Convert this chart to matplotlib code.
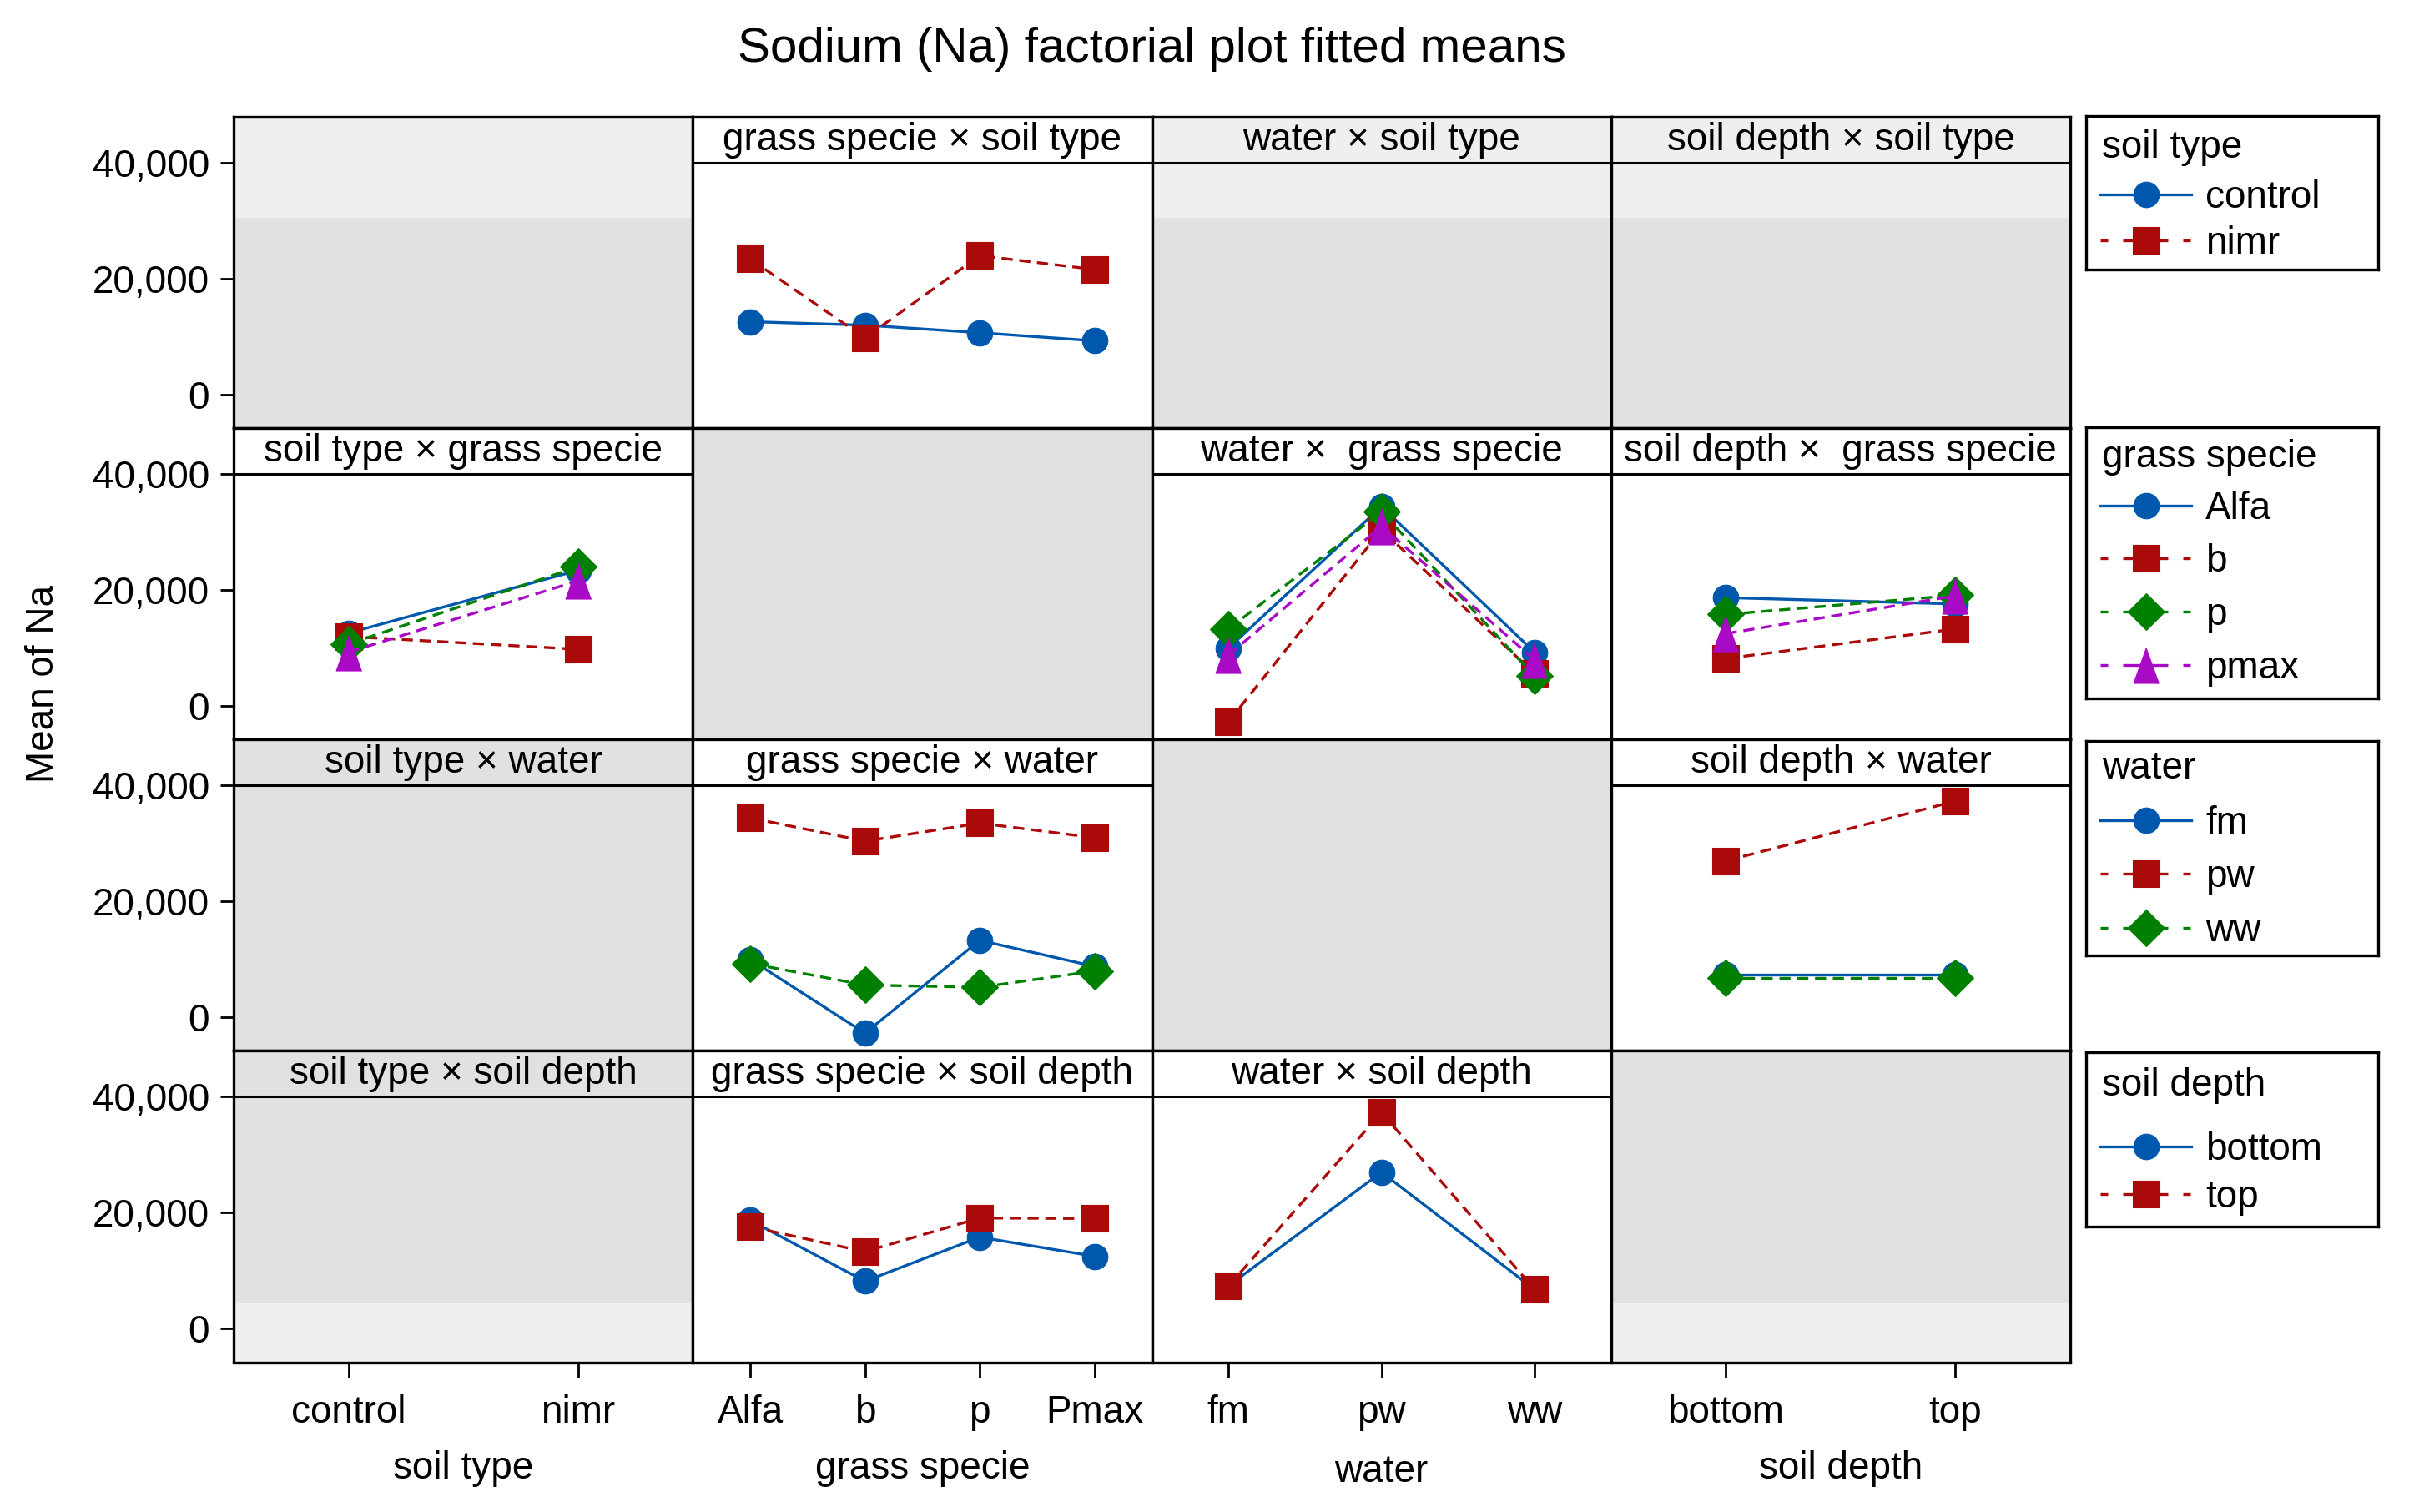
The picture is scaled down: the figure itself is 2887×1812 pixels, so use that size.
import numpy as np
import matplotlib.pyplot as plt
from matplotlib.lines import Line2D

plt.rcParams['font.family'] = ['Liberation Sans', 'DejaVu Sans']

# factor names and levels
factors = ['soil type', 'grass specie', 'water', 'soil depth']
soil_levels = ['control', 'nimr']
grass_levels = ['Alfa', 'b', 'p', 'pmax']
grass_ticks = ['Alfa', 'b', 'p', 'Pmax']
water_levels = ['fm', 'pw', 'ww']
depth_levels = ['bottom', 'top']

# fitted means of Na, rows = first factor, columns = second factor
soil_grass = [[12600, 12000, 10700, 9300],
              [23400, 9800, 24000, 21600]]
grass_water = [[10000, 34400, 9300],
               [-2700, 30400, 5600],
               [13300, 33500, 5200],
               [8800, 31000, 8000]]
grass_depth = [[18700, 17600],
               [8200, 13300],
               [15800, 19100],
               [12500, 19000]]
water_depth = [[7400, 7400],
               [27000, 37300],
               [6800, 6800]]

# strip titles, None = no strip
strip_titles = [
    [None, 'grass specie × soil type', 'water × soil type', 'soil depth × soil type'],
    ['soil type × grass specie', None, 'water ×  grass specie', 'soil depth ×  grass specie'],
    ['soil type × water', 'grass specie × water', None, 'soil depth × water'],
    ['soil type × soil depth', 'grass specie × soil depth', 'water × soil depth', None],
]

levels = [soil_levels, grass_levels, water_levels, depth_levels]
ticklabels = [soil_levels, grass_ticks, water_levels, depth_levels]

# (row, col) -> table with rows = trace levels (row factor), cols = x levels
panels = {
    (0, 1): np.array(soil_grass),
    (1, 0): np.array(soil_grass).T,
    (1, 2): np.array(grass_water),
    (1, 3): np.array(grass_depth),
    (2, 1): np.array(grass_water).T,
    (2, 3): np.array(water_depth),
    (3, 1): np.array(grass_depth).T,
    (3, 2): np.array(water_depth).T,
}

colors = ['#0058ad', '#aa0a0a', '#008000', '#a80ac6']
tri = [(0, 0.7), (-0.5, -0.7), (0.5, -0.7)]
markers = ['o', 's', 'D', tri]
msizes = [11, 11.2, 11, 15.5]
dash = (0, (4.0, 2.4))
leg_dash = (0, (2.7, 5.4, 16.2, 5.4))
lw_data = 1.2

gray = '#e1e1e1'
light = '#efefef'
fs = 16.5
ylo, yhi = -5755, 47914

W, H = 2887, 1812
fig = plt.figure(figsize=(W / 200, H / 200), dpi=200)

L, R = 280 / W, 2481 / W
T, B = 1 - 140 / H, 1 - 1632.5 / H
pw = (R - L) / 4
ph = (T - B) / 4

for r in range(4):
    for c in range(4):
        ax = fig.add_axes([L + c * pw, T - (r + 1) * ph, pw, ph])
        n = len(levels[c])
        ax.set_xlim(-0.5, n - 0.5)
        ax.set_ylim(ylo, yhi)
        for s in ax.spines.values():
            s.set_linewidth(1.2)

        if (r, c) in panels:
            ax.set_facecolor('white')
            tab = panels[(r, c)]
            for i, row in enumerate(tab):
                ax.plot(np.arange(n), row, color=colors[i], marker=markers[i],
                        ms=msizes[i], mec=colors[i], mew=0.4, lw=lw_data,
                        ls='-' if i == 0 else dash, clip_on=False)
        else:
            ax.set_facecolor(gray)
            if r == 0:
                ax.axhspan(30500, yhi, color=light, lw=0)
            if r == 3:
                ax.axhspan(ylo, 4600, color=light, lw=0)

        title = strip_titles[r][c]
        if title is not None:
            if (r, c) in panels:
                ax.axhspan(40000, yhi, color='white', lw=0, zorder=1.5)
            ax.axhline(40000, color='black', lw=1.1, zorder=3)
            ax.text(0.5, (40000 + yhi) / 2, title, transform=ax.get_yaxis_transform(),
                    ha='center', va='center', fontsize=fs, zorder=4)

        if c == 0:
            ax.set_yticks([0, 20000, 40000])
            ax.set_yticklabels(['{:,}'.format(v) for v in [0, 20000, 40000]])
            ax.tick_params(axis='y', length=5.8, width=1.0, pad=4.7, labelsize=fs)
        else:
            ax.set_yticks([])
        if r == 3:
            ax.set_xticks(np.arange(n))
            ax.set_xticklabels(ticklabels[c])
            ax.tick_params(axis='x', length=6.5, width=1.0, pad=7.5, labelsize=fs)
        else:
            ax.set_xticks([])

# x axis labels
for c, name in enumerate(factors):
    yb = 1776 if name == 'water' else 1772
    fig.text(L + (c + 0.5) * pw, 1 - yb / H, name, ha='center', va='baseline', fontsize=fs)

fig.text(0.018, 0.5475, 'Mean of Na', rotation=90, ha='center', va='center', fontsize=fs)
fig.text((L + R) / 2, 0.959, 'Sodium (Na) factorial plot fitted means',
         ha='center', va='baseline', fontsize=21)

# legend boxes: (top px, bottom px, title center px, first entry center px, spacing)
boxes = [(139, 323, 177, 236, 0.25),
         (512, 837, 548, 609, 0.43),
         (888, 1145, 921, 986, 0.45),
         (1261, 1470, 1301, 1377, 0.29)]
bx0, bx1 = 2500, 2850
row_h = 42.5
for k, (top, bot, ty, ey, sp) in enumerate(boxes):
    lax = fig.add_axes([bx0 / W, 1 - bot / H, (bx1 - bx0) / W, (bot - top) / H])
    lax.set_xlim(0, bx1 - bx0)
    lax.set_ylim(bot - top, 0)
    lax.set_xticks([])
    lax.set_yticks([])
    for s in lax.spines.values():
        s.set_linewidth(1.2)
    lax.text(19, ty - top, factors[k], ha='left', va='center', fontsize=fs)
    handles = []
    for i, lev in enumerate(levels[k]):
        handles.append(Line2D([], [], color=colors[i], marker=markers[i], ms=msizes[i],
                              mec=colors[i], mew=0.4, lw=lw_data,
                              ls='-' if i == 0 else leg_dash, label=lev))
    lax.legend(handles=handles, loc='upper left',
               bbox_to_anchor=(17, ey - top - row_h / 2), bbox_transform=lax.transData,
               frameon=False, fontsize=fs, handlelength=2.38, handletextpad=0.37,
               labelspacing=sp, borderpad=0, borderaxespad=0)

fig.savefig('out.png', dpi=200)
